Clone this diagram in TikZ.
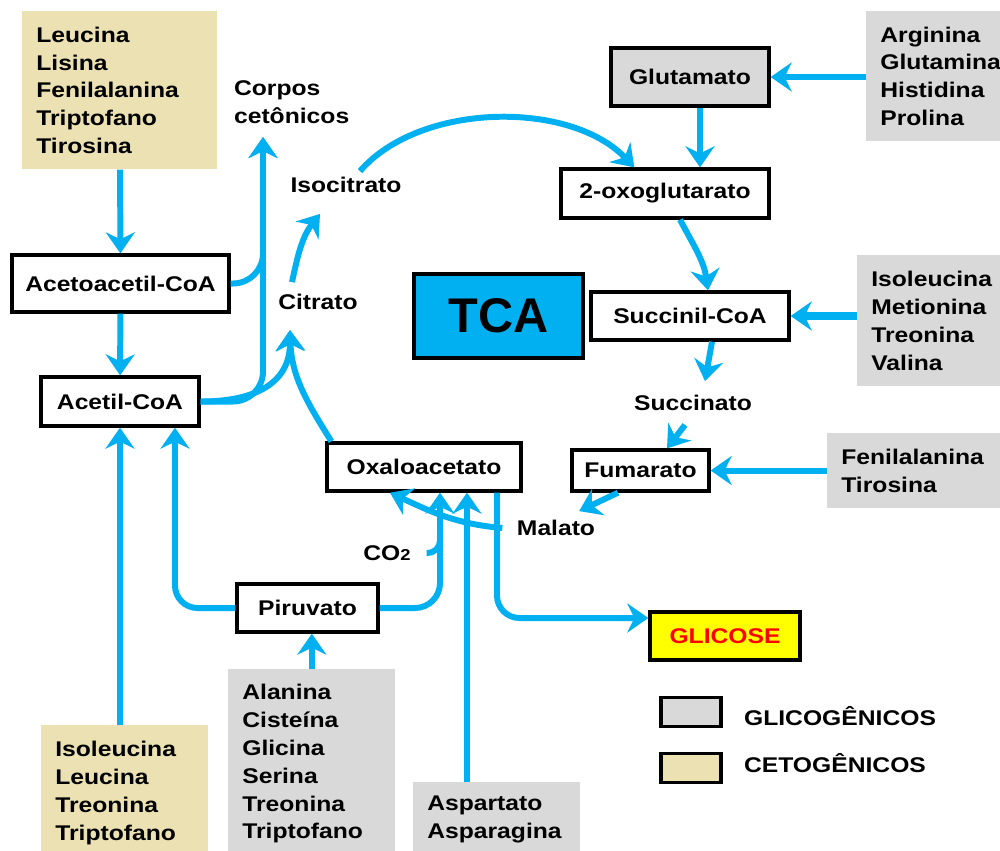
\documentclass[tikz,border=0pt]{standalone}
\usepackage{fontspec}
\setmainfont{Liberation Sans}[FakeStretch=1.16]
\newfontfamily\tcafont{Liberation Sans}
\usetikzlibrary{arrows.meta, positioning}

\definecolor{tcablue}{HTML}{00B0F0}
\definecolor{glicocinza}{HTML}{D9D9D9}
\definecolor{cetobege}{HTML}{EBE1B3}
\definecolor{glicoamarelo}{HTML}{FFFF00}

\tikzset{
  base/.style={font=\fontsize{12.1}{15.9}\selectfont\bfseries},
  met/.style={base, draw, line width=1.9pt, fill=white, minimum height=0.96cm},
  lista/.style={base, anchor=north west, align=left, inner xsep=0.28cm, inner ysep=0.18cm},
  glico/.style={lista, fill=glicocinza},
  ceto/.style={lista, fill=cetobege},
  rot/.style={base, align=left, inner sep=1pt},
  legbox/.style={draw, line width=1.9pt, minimum width=1.2cm, minimum height=0.58cm, inner sep=0pt},
  fio/.style={draw=tcablue, line width=3.4pt},
  seta/.style={fio, -{Stealth[length=0.42cm, width=0.58cm, inset=0.14cm]}},
}

\begin{document}
\begin{tikzpicture}[x=0.02cm, y=0.02cm]
\useasboundingbox (0,0) rectangle (1000,-850);

\node[ceto, text width=3.34cm, minimum height=3.16cm] (cetoA) at (22,-11) {Leucina\\Lisina\\Fenilalanina\\Triptofano\\Tirosina};
\node[ceto, text width=2.78cm, minimum height=2.72cm] (cetoB) at (41,-725) {Isoleucina\\Leucina\\Treonina\\Triptofano};
\node[glico, text width=2.6cm, minimum height=2.6cm] (glicoA) at (866,-11) {Arginina\\Glutamina\\Histidina\\Prolina};
\node[glico, text width=2.6cm, minimum height=2.62cm] (glicoB) at (857,-255) {Isoleucina\\Metionina\\Treonina\\Valina};
\node[glico, text width=2.9cm, minimum height=1.5cm] (glicoC) at (827,-433) {Fenilalanina\\Tirosina};
\node[glico, text width=2.78cm, minimum height=3.77cm] (glicoD) at (228,-669) {Alanina\\Cisteína\\Glicina\\Serina\\Treonina\\Triptofano};
\node[glico, text width=2.78cm, minimum height=1.5cm] (glicoE) at (413,-782) {Aspartato\\Asparagina};

\node[rot, anchor=west] (corpos) at (232,-102) {Corpos\\cetônicos};
\node[met, minimum width=4.34cm, minimum height=1.14cm] (acetoacetil) at (120.5,-283.5) {Acetoacetil-CoA};
\node[met, minimum width=3.16cm, minimum height=0.98cm] (acetil) at (120,-401.5) {Acetil-CoA};
\node[rot] (citrato) at (318,-302) {Citrato};
\node[rot] (isocitrato) at (346,-185) {Isocitrato};
\node[met, fill=glicocinza, minimum width=3.16cm, minimum height=1.16cm] (glutamato) at (690,-77) {Glutamato};
\node[met, minimum width=4.16cm, minimum height=0.98cm] (oxoglut) at (665,-193.5) {2-oxoglutarato};
\node[draw, line width=1.9pt, fill=tcablue, minimum width=3.38cm, minimum height=1.68cm,
  font=\tcafont\fontsize{27.7}{30}\selectfont\bfseries] (tca) at (498.5,-316) {TCA};
\node[met, minimum width=3.96cm] (succinil) at (690,-316) {Succinil-CoA};
\node[rot] (succinato) at (693,-403) {Succinato};
\node[met, minimum width=2.74cm, minimum height=0.82cm] (fumarato) at (640.5,-470.5) {Fumarato};
\node[rot] (malato) at (556,-528) {Malato};
\node[met, minimum width=3.88cm] (oxalo) at (424,-467) {Oxaloacetato};
\node[rot] (co2) at (387,-553) {CO{\fontsize{9}{9}\selectfont 2}};
\node[met, minimum width=2.82cm] (piruvato) at (307.5,-608) {Piruvato};
\node[met, fill=glicoamarelo, text=red, minimum width=3cm] (glicose) at (725,-636) {GLICOSE};

\node[legbox, fill=glicocinza] (legglico) at (691,-712) {};
\node[legbox, fill=cetobege] (legceto) at (691,-768) {};
\node[rot, anchor=west] (txtglico) at (742,-716) {GLICOGÊNICOS};
\node[rot, anchor=west] (txtceto) at (742,-763) {CETOGÊNICOS};

\coordinate (topocorpos) at (263,-137);
\coordinate (pontacit) at (290,-330);

\draw[seta] (cetoA) -- (acetoacetil);
\draw[seta] (acetoacetil) -- (acetil);
\draw[seta] (cetoB.north -| acetil.south) -- (acetil.south);
\draw[seta, rounded corners=0.6cm] (acetil.east) -| (topocorpos);
\draw[seta, rounded corners=0.6cm] (acetoacetil.east) -| (topocorpos);
\draw[seta] (acetil.east) to[out=0, in=-90, looseness=1.2] (pontacit);
\draw[seta] ([xshift=0.12cm]oxalo.north west) to[out=122, in=-88] (pontacit);
\draw[seta] ([xshift=-0.52cm, yshift=0.2cm]citrato.north) to[out=78, in=-128] ([xshift=-0.52cm, yshift=-0.38cm]isocitrato.south);
\draw[seta] ([xshift=0.28cm, yshift=0.08cm]isocitrato.north) .. controls (420,-102) and (570,-100) .. ([xshift=1.5cm]oxoglut.north west);
\draw[seta] (glicoA.west |- glutamato.east) -- (glutamato.east);
\draw[seta] ([xshift=0.2cm]glutamato.south) -- ([xshift=0.2cm]glutamato.south |- oxoglut.north);
\draw[seta] ([xshift=0.3cm]oxoglut.south) to[out=-62, in=98] ([xshift=0.36cm]succinil.north);
\draw[seta, line width=4.6pt] (glicoB.west |- succinil.east) -- (succinil.east);
\draw[seta] ([xshift=0.44cm]succinil.south) -- ([xshift=0.24cm, yshift=0.24cm]succinato.north);
\draw[seta] ([xshift=-0.16cm, yshift=-0.24cm]succinato.south) -- ([xshift=0.53cm]fumarato.north);
\draw[seta] (glicoC.west |- fumarato.east) -- (fumarato.east);
\draw[seta] ([xshift=-0.45cm]fumarato.south) -- ([xshift=-0.36cm, yshift=0.14cm]malato.north east);
\draw[seta] ([xshift=-0.25cm]malato.west) to[out=175, in=-25] ([xshift=-0.68cm]oxalo.south);
\draw[seta, rounded corners=0.5cm] (piruvato.east) -| ([xshift=0.32cm]oxalo.south);
\draw[fio, rounded corners=0.25cm] ([xshift=0.28cm]co2.east) -| ([xshift=0.32cm, yshift=-0.8cm]oxalo.south);
\draw[seta, rounded corners=0.45cm] (piruvato.west) -| ([xshift=1.1cm]acetil.south);
\draw[seta] (glicoD.north) -- (glicoD.north |- piruvato.south);
\draw[seta] ([xshift=0.86cm]oxalo.south |- glicoE.north) -- ([xshift=0.86cm]oxalo.south);
\draw[seta, rounded corners=0.45cm] ([xshift=1.46cm]oxalo.south) |- ([yshift=0.36cm]glicose.west);
\end{tikzpicture}
\end{document}
